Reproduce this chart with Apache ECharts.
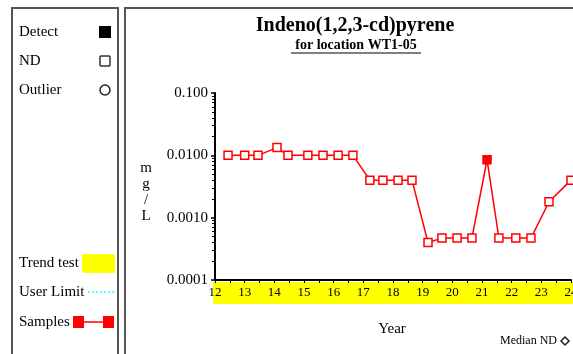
<!DOCTYPE html>
<html><head><meta charset="utf-8">
<script src="https://cdn.jsdelivr.net/npm/echarts@6/dist/echarts.min.js"></script>
<style>html,body{margin:0;padding:0;background:#fff}#c{width:573px;height:354px}</style>
</head><body><div id="c"></div>
<script>
// ---- data ----
const years = [12.44, 13.0, 13.45, 14.09, 14.46, 15.13, 15.64, 16.15, 16.65, 17.22, 17.66, 18.17, 18.64, 19.18, 19.65, 20.16, 20.66, 21.17, 21.57, 22.14, 22.65, 23.26, 24.0];
const values = [0.01, 0.01, 0.01, 0.0133, 0.01, 0.01, 0.01, 0.01, 0.01, 0.004, 0.004, 0.004, 0.004, 0.0004, 0.00047, 0.00047, 0.00047, 0.0085, 0.00047, 0.00047, 0.00047, 0.0018, 0.004];
const detected = [0,0,0,0,0,0,0,0,0,0,0,0,0,0,0,0,0,1,0,0,0,0,0];
const yTickValues = [0.0001, 0.001, 0.01, 0.1];
const yTickLabels = ['0.0001', '0.0010', '0.0100', '0.100'];
const yMinorTicks = [];
[0.0001, 0.001, 0.01].forEach(b => { for (let k = 2; k <= 9; k++) yMinorTicks.push(+(b * k).toPrecision(3)); });
const xMin = 12, xMax = 24;
const titleText = 'Indeno(1,2,3-cd)pyrene';
const subtitleText = 'for location WT1-05';
const legendTop = ['Detect', 'ND', 'Outlier'];
const legendBottom = ['Trend test', 'User Limit', 'Samples'];

const FONT = '"Liberation Serif", "Times New Roman", serif';
const chart = echarts.init(document.getElementById('c'));

const seriesData = years.map((y, i) => ({
  value: [y, values[i]],
  itemStyle: detected[i] ? { color: '#ff0000', borderColor: '#ff0000' } : { color: '#fff', borderColor: '#ff0000' }
}));

const txt = (x, y, s, opt) => Object.assign({ type: 'text', x, y, style: Object.assign({ text: s, font: '15px ' + FONT, fill: '#000', textVerticalAlign: 'middle' }, opt || {}) });

const graphics = [
  { type: 'rect', shape: { x: 12, y: 8, width: 106, height: 360 }, style: { fill: 'none', stroke: '#555', lineWidth: 2 }, z: 10 },
  { type: 'rect', shape: { x: 125, y: 8, width: 460, height: 360 }, style: { fill: 'none', stroke: '#555', lineWidth: 2 }, z: 10 },
  // trend test band under x axis
  { type: 'rect', shape: { x: 213, y: 282, width: 362, height: 22 }, style: { fill: '#ffff00' }, z: -1 },
  txt(19, 32, legendTop[0]),
  txt(19, 61, legendTop[1]),
  txt(19, 90, legendTop[2]),
  { type: 'rect', shape: { x: 99, y: 26, width: 12, height: 12 }, style: { fill: '#000' } },
  { type: 'rect', shape: { x: 100, y: 56, width: 10, height: 10, r: 1 }, style: { fill: '#fff', stroke: '#333', lineWidth: 1.5 } },
  { type: 'circle', shape: { cx: 105, cy: 90, r: 5 }, style: { fill: '#fff', stroke: '#222', lineWidth: 1.5 } },
  txt(19, 263, legendBottom[0]),
  txt(19, 292, legendBottom[1]),
  txt(19, 322, legendBottom[2]),
  { type: 'rect', shape: { x: 82, y: 254, width: 33, height: 19, r: 2 }, style: { fill: '#ffff00' } },
  { type: 'line', shape: { x1: 88, y1: 292, x2: 115, y2: 292 }, style: { stroke: '#66ffff', lineWidth: 2, lineDash: [2, 2] } },
  { type: 'line', shape: { x1: 78, y1: 322, x2: 108, y2: 322 }, style: { stroke: '#ff0000', lineWidth: 1.5 } },
  { type: 'rect', shape: { x: 73, y: 316, width: 11, height: 12 }, style: { fill: '#ff0000' } },
  { type: 'rect', shape: { x: 103, y: 316, width: 11, height: 12 }, style: { fill: '#ff0000' } },
  // titles
  txt(355, 26, titleText, { font: 'bold 20px ' + FONT, textAlign: 'center' }),
  txt(356, 45, subtitleText, { font: 'bold 14px ' + FONT, textAlign: 'center' }),
  { type: 'line', shape: { x1: 291, y1: 53, x2: 421, y2: 53 }, style: { stroke: '#000', lineWidth: 1 } },
  // y axis name
  { type: 'text', x: 146, y: 192, style: { text: 'm\ng\n/\nL', font: '15px ' + FONT, fill: '#000', textAlign: 'center', textVerticalAlign: 'middle', lineHeight: 16 } },
  txt(392, 329, 'Year', { textAlign: 'center' }),
  txt(557, 341, 'Median ND', { font: '12px ' + FONT, textAlign: 'right' }),
  { type: 'polygon', shape: { points: [[565, 337], [569, 341], [565, 345], [561, 341]] }, style: { fill: '#fff', stroke: '#222', lineWidth: 1.5 } }
];

chart.setOption({
  animation: false,
  backgroundColor: '#fff',
  grid: { left: 215, right: 2, top: 93, height: 187, containLabel: false, outerBoundsMode: 'none' },
  xAxis: {
    type: 'value', min: xMin, max: xMax, interval: 1,
    axisLine: { onZero: false, lineStyle: { color: '#000', width: 2 } },
    axisTick: { show: true, length: 3, lineStyle: { color: '#000', width: 1 } },
    minorTick: { show: true, splitNumber: 2, length: 3, lineStyle: { color: '#000', width: 1 } },
    splitLine: { show: false },
    axisLabel: { margin: 6, color: '#000', fontFamily: FONT, fontSize: 13, showMaxLabel: true, showMinLabel: true }
  },
  yAxis: [{
    type: 'log', logBase: 10, min: 0.0001, max: 0.1,
    axisLine: { show: true, lineStyle: { color: '#000', width: 2 } },
    axisTick: { show: true, length: 4, lineStyle: { color: '#000', width: 1.5 } },
    splitLine: { show: false },
    axisLabel: {
      margin: 7, color: '#000', fontFamily: FONT, fontSize: 15,
      formatter: v => { const i = yTickValues.findIndex(t => Math.abs(Math.log10(t) - Math.log10(v)) < 1e-6); return i >= 0 ? yTickLabels[i] : ''; }
    }
  }, {
    type: 'log', logBase: 10, min: 0.0001, max: 0.1, position: 'left',
    axisLine: { show: false },
    axisTick: { show: true, length: 3, customValues: yMinorTicks, lineStyle: { color: '#000', width: 1 } },
    axisLabel: { show: false },
    splitLine: { show: false }
  }],
  graphic: graphics,
  series: [{
    type: 'line', data: seriesData, symbol: 'rect', symbolSize: 8,
    lineStyle: { color: '#ff0000', width: 1.5 },
    itemStyle: { borderWidth: 1.5 },
    clip: false
  }]
});
</script></body></html>
